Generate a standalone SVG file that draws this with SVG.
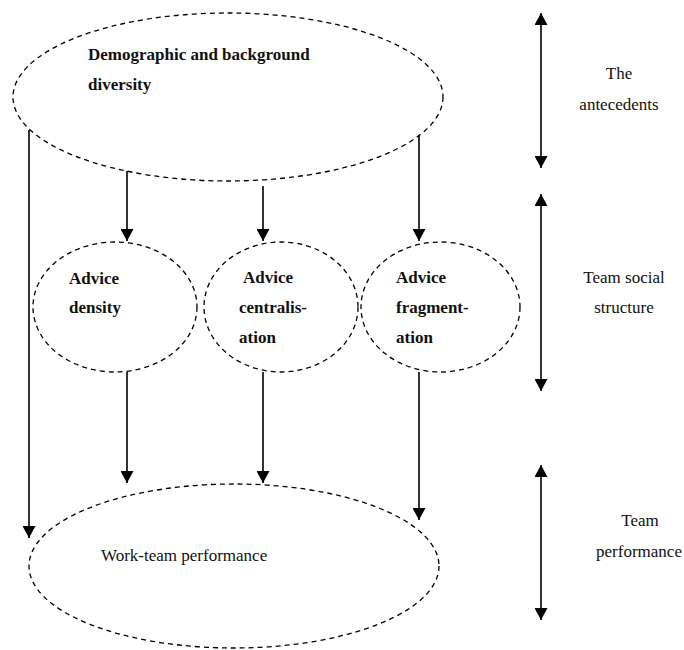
<svg xmlns="http://www.w3.org/2000/svg" width="684" height="650" viewBox="0 0 684 650">
<style>
.node{fill:none;stroke:#000;stroke-width:1.3;stroke-dasharray:5,4}
.edge{stroke:#000;stroke-width:1.6;fill:none}
text{font-family:'Liberation Serif','Times New Roman','DejaVu Serif',serif;font-size:17px;fill:#111}
.b{font-weight:bold}
.c{text-anchor:middle}
</style>
<defs>
<marker id="ah" viewBox="0 0 12 13" refX="12" refY="6.5" markerWidth="12" markerHeight="13" markerUnits="userSpaceOnUse" orient="auto-start-reverse">
<path d="M0,0 L12,6.5 L0,13 z" fill="#000"/>
</marker>
</defs>
<rect width="684" height="650" fill="#fff"/>
<g id="diversity">
<ellipse class="node" cx="228" cy="97" rx="215" ry="84"/>
<text class="b" x="88" y="60">Demographic and background</text>
<text class="b" x="88" y="90">diversity</text>
</g>
<g id="density">
<ellipse class="node" cx="115" cy="307" rx="82" ry="65"/>
<text class="b" x="69" y="284">Advice</text>
<text class="b" x="69" y="313">density</text>
</g>
<g id="centralisation">
<ellipse class="node" cx="281" cy="307" rx="77" ry="65"/>
<text class="b" x="243" y="283">Advice</text>
<text class="b" x="239" y="313">centralis-</text>
<text class="b" x="239" y="343">ation</text>
</g>
<g id="fragmentation">
<ellipse class="node" cx="440.5" cy="307" rx="79.5" ry="65"/>
<text class="b" x="396" y="283">Advice</text>
<text class="b" x="396" y="313">fragment-</text>
<text class="b" x="396" y="343">ation</text>
</g>
<g id="performance">
<ellipse class="node" cx="234" cy="566" rx="205" ry="82"/>
<text x="101" y="561">Work-team performance</text>
</g>
<g id="connectors">
<line class="edge" x1="29" y1="130" x2="29" y2="538" marker-end="url(#ah)"/>
<line class="edge" x1="127" y1="171" x2="127" y2="241" marker-end="url(#ah)"/>
<line class="edge" x1="263" y1="186" x2="263" y2="241" marker-end="url(#ah)"/>
<line class="edge" x1="419" y1="135" x2="419" y2="241" marker-end="url(#ah)"/>
<line class="edge" x1="127" y1="372" x2="127" y2="483" marker-end="url(#ah)"/>
<line class="edge" x1="263" y1="372" x2="263" y2="483" marker-end="url(#ah)"/>
<line class="edge" x1="419" y1="372" x2="419" y2="520" marker-end="url(#ah)"/>
</g>
<g id="levels">
<line class="edge" x1="541" y1="13" x2="541" y2="168" marker-start="url(#ah)" marker-end="url(#ah)"/>
<line class="edge" x1="541" y1="194" x2="541" y2="391" marker-start="url(#ah)" marker-end="url(#ah)"/>
<line class="edge" x1="541" y1="465" x2="541" y2="620" marker-start="url(#ah)" marker-end="url(#ah)"/>
<text class="c" x="619" y="79">The</text>
<text class="c" x="619" y="110">antecedents</text>
<text class="c" x="624" y="283">Team social</text>
<text class="c" x="624" y="313">structure</text>
<text class="c" x="640" y="526">Team</text>
<text class="c" x="639" y="557">performance</text>
</g>
</svg>
